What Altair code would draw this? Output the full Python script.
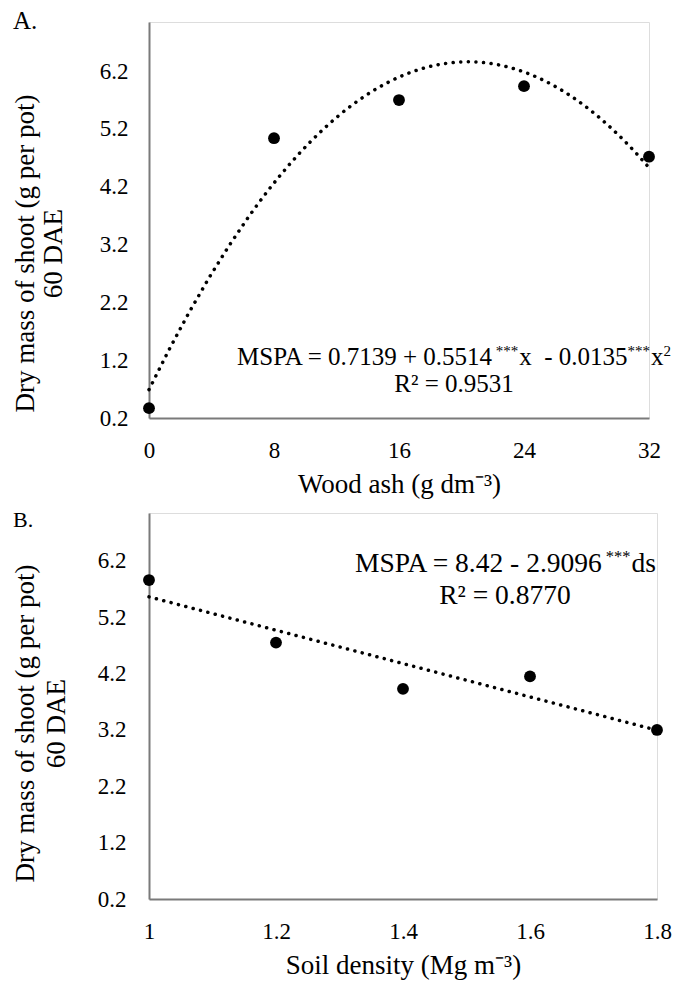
import altair as alt
import pandas as pd

# ---------------- data ----------------
ash = [0, 8, 16, 24, 32]
shoot_a = [0.37, 5.04, 5.70, 5.94, 4.72]
density = [1.0, 1.2, 1.4, 1.6, 1.8]
shoot_b = [5.86, 4.75, 3.93, 4.15, 3.20]
y_ticks = [0.2, 1.2, 2.2, 3.2, 4.2, 5.2, 6.2]
x_ticks_a = [0, 8, 16, 24, 32]
x_ticks_b = [1.0, 1.2, 1.4, 1.6, 1.8]
y_title = ["Dry mass of shoot (g per pot)", "60 DAE"]
x_title_a = "Wood ash (g dm⁻³)"
x_title_b = "Soil density (Mg m⁻³)"
eq_a = [("MSPA = 0.7139 + 0.5514", "n"), ("***", "s"), ("x", "n"), ("  ", "g"),
        ("- 0.0135", "n"), ("***", "s"), ("x", "n"), ("2", "s")]
r2_a = "R² = 0.9531"
eq_b = [("MSPA = 8.42 - 2.9096", "n"), ("***", "s"), ("ds", "n")]
r2_b = "R² = 0.8770"

FONT = "Liberation Serif"
AXIS_GRAY = "#7a7a7a"

# Times / Liberation Serif advance widths (per 1000 em)
W = {" ": 250, "=": 564, "+": 564, "-": 333, ".": 250, "M": 889, "S": 556,
     "P": 556, "A": 722, "x": 500, "*": 500, "d": 500, "s": 389, "R": 667}


def text_width(t, size):
    return sum(W.get(c, 500) for c in t) * size / 1000.0


def equation_layers(segments, start_x, base_y, size):
    layers = []
    x = start_x
    sup = size * 0.6
    for txt, kind in segments:
        fs = sup if kind == "s" else size
        y = base_y - size * 0.36 if kind == "s" else base_y
        if kind != "g":
            layers.append(
                alt.Chart(pd.DataFrame({"t": [txt]}))
                .mark_text(align="left", baseline="alphabetic", font=FONT,
                           fontSize=fs, color="black")
                .encode(x=alt.value(x), y=alt.value(y), text="t:N")
            )
        x += text_width(txt, fs) + (1.0 if kind == "s" else 0.0)
    return layers


def label_layer(txt, x, y, size, align="left"):
    return (
        alt.Chart(pd.DataFrame({"t": [txt]}))
        .mark_text(align=align, baseline="alphabetic", font=FONT,
                   fontSize=size, color="black")
        .encode(x=alt.value(x), y=alt.value(y), text="t:N")
    )


def panel(xs, ys, xname, x_domain, x_ticks, x_title, method, width, height,
          ytitle_y, ytitle_lh, ylabel_pad, texts):
    df = pd.DataFrame({xname: xs, "y": ys})
    x_enc = alt.X(
        f"{xname}:Q",
        scale=alt.Scale(domain=x_domain, nice=False, zero=False),
        axis=alt.Axis(values=x_ticks, format="~g", domainColor=AXIS_GRAY,
                      domainWidth=2, ticks=False, tickSize=0, grid=False,
                      labelFont=FONT, labelFontSize=23, labelColor="black",
                      labelBaseline="alphabetic", labelPadding=39,
                      labelFlush=False, labelOverlap=False,
                      title=x_title, titleFont=FONT, titleFontSize=27,
                      titleFontWeight="normal", titleColor="black",
                      titleBaseline="alphabetic", titleY=74),
    )
    y_enc = alt.Y(
        "y:Q",
        scale=alt.Scale(domain=[0.2, 7.05], nice=False, zero=False),
        axis=alt.Axis(values=y_ticks, format=".1f", domainColor=AXIS_GRAY,
                      domainWidth=2, ticks=False, tickSize=0, grid=False,
                      labelFont=FONT, labelFontSize=23, labelColor="black",
                      labelPadding=ylabel_pad, labelFlush=False,
                      labelOverlap=False,
                      title=y_title, titleFont=FONT, titleFontSize=27,
                      titleFontWeight="normal", titleColor="black",
                      titleAngle=270, titleAlign="center",
                      titleBaseline="bottom", titleLineHeight=ytitle_lh,
                      titleX=-110, titleY=ytitle_y),
    )
    base = alt.Chart(df)
    pts = base.mark_circle(size=140, color="black", opacity=1).encode(x=x_enc, y=y_enc)
    if method == "poly":
        reg = base.transform_regression(xname, "y", method="poly", order=2)
    else:
        reg = base.transform_regression(xname, "y", method="linear")
    line = reg.mark_line(color="black", strokeWidth=3.5, strokeDash=[0.1, 7.5],
                         strokeCap="round").encode(x=x_enc, y=y_enc)
    return alt.layer(line, pts, *texts).properties(width=width, height=height)


PLOT_LEFT = 149.0

texts_a = [label_layer("A.", 13 - PLOT_LEFT, 7.3, 25)]
texts_a += equation_layers(eq_a, 237 - PLOT_LEFT, 342.6, 25)
texts_a.append(label_layer(r2_a, 454 - PLOT_LEFT, 370.3, 25, align="center"))

texts_b = [label_layer("B.", 13 - PLOT_LEFT, 14.3, 22)]
texts_b += equation_layers(eq_b, 355 - PLOT_LEFT, 59, 27.5)
texts_b.append(label_layer(r2_b, 505 - PLOT_LEFT, 90.6, 27.5, align="center"))

panel_a = panel(ash, shoot_a, "ash", [0, 32], x_ticks_a, x_title_a, "poly",
                500, 396, 231, 28, 21, texts_a)
panel_b = panel(density, shoot_b, "density", [1.0, 1.8], x_ticks_b, x_title_b,
                "linear", 508, 386, 210, 31, 23, texts_b)

chart = (
    alt.vconcat(panel_a, panel_b, spacing=10)
    .properties(padding={"left": 2, "top": 0, "right": 5, "bottom": 5})
    .configure_view(stroke=None)
    .configure(background="white")
)

chart.save("out.html", embed_options={"renderer": "svg", "actions": False})
